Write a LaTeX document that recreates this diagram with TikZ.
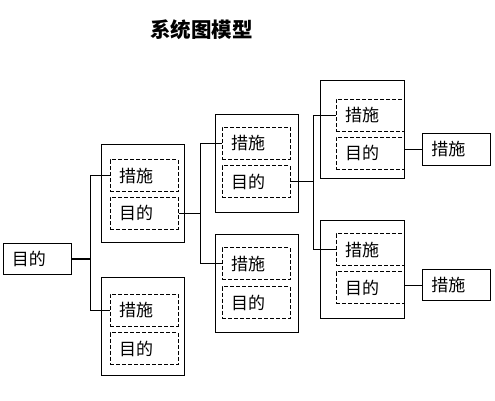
\documentclass[tikz,border=0pt]{standalone}
\usepackage{fontspec}
\setmainfont{Noto Sans CJK SC}
\usetikzlibrary{calc}
\tikzset{
  every node/.style={font=\fontsize{17}{17}\selectfont},
  outerbox/.style={draw, line width=1pt, minimum width=83pt, minimum height=98pt, inner sep=0pt},
  dbox/.style={draw, line width=1pt, dash pattern=on 4pt off 2pt, minimum width=68pt, minimum height=32pt, text width=50pt, inner xsep=9pt, inner ysep=0pt, align=left},
  sbox/.style={draw, line width=1pt, minimum width=68pt, minimum height=31pt, text width=50pt, inner xsep=9pt, inner ysep=0pt, align=left},
  conn/.style={line width=1pt},
}
\begin{document}
\begin{tikzpicture}[x=1pt,y=-1pt]
\useasboundingbox (0,0) rectangle (495,401);
\node[font=\fontsize{20.5}{20.5}\selectfont\bfseries] (title) at (201.5,30) {系统图模型};
% root
\node[sbox] (root) at (37,258.5) {目的};
% column A/B
\node[outerbox] (A) at (142.75,193.8) {};
\node[dbox] (Ac) at (144,175.8) {措施};
\node[dbox] (Am) at (144,213.2) {目的};
\node[outerbox] (B) at (142.75,326.5) {};
\node[dbox] (Bc) at (144,310.2) {措施};
\node[dbox] (Bm) at (144,348.5) {目的};
% column C/D
\node[outerbox] (C) at (257,163.2) {};
\node[dbox] (Cc) at (256.2,143.2) {措施};
\node[dbox] (Cm) at (256.2,181.5) {目的};
\node[outerbox] (D) at (257,283) {};
\node[dbox] (Dc) at (256.2,263.8) {措施};
\node[dbox] (Dm) at (256.2,302.5) {目的};
% column E/F
\node[dbox] (Ec) at (370,115.3) {措施};
\node[dbox] (Em) at (370,153.2) {目的};
\node[outerbox, minimum width=84pt] (E) at (362.3,129.7) {};
\node[dbox] (Fc) at (370,249.7) {措施};
\node[dbox] (Fm) at (370,287.8) {目的};
\node[outerbox, minimum width=84pt] (F) at (362.3,269.3) {};
% right boxes
\node[sbox, minimum height=32pt] (R1) at (456.3,149.3) {措施};
\node[sbox] (R2) at (456.3,285) {措施};
% junctions
\coordinate (j1) at ($(root.east)+(19,0)$);
\coordinate (j2) at ($(Am.east)+(22,0)$);
\coordinate (j3) at ($(Cm.east)+(23,0)$);
% connectors
\draw[conn, line width=2pt] (root.east) -- (j1);
\draw[conn] (j1) |- (Ac.west);
\draw[conn] (j1) |- (Bc.west);
\draw[conn] (Am.east) -- (j2);
\draw[conn] (j2) |- (Cc.west);
\draw[conn] (j2) |- (Dc.west);
\draw[conn] (Cm.east) -- (j3);
\draw[conn] (j3) |- (Ec.west);
\draw[conn] (j3) |- (Fc.west);
\draw[conn] (R1.west -| E.east) -- (R1.west);
\draw[conn] (R2.west -| F.east) -- (R2.west);
\end{tikzpicture}
\end{document}
